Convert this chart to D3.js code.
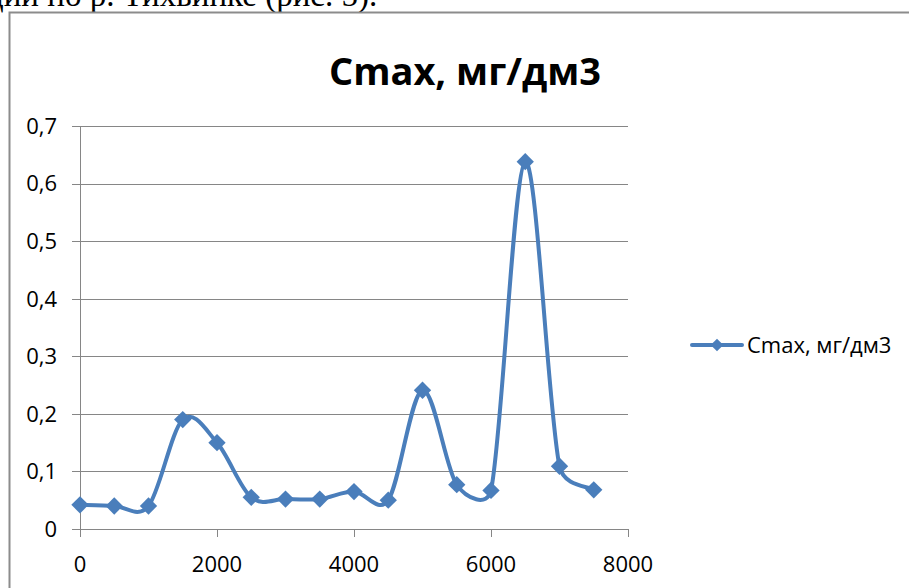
<!DOCTYPE html>
<html>
<head>
<meta charset="utf-8">
<script src="https://cdn.jsdelivr.net/npm/d3@7"></script>
<style>
  body { margin: 0; background: #fff; }
  .tick-label { font-family: "Open Sans", sans-serif; font-size: 22px; fill: #000; }
</style>
</head>
<body>
<div class="chart"></div>
<script>
var distances = [0, 500, 1000, 1500, 2000, 2500, 3000, 3500, 4000, 4500, 5000, 5500, 6000, 6500, 7000, 7500];
var cmaxValues = [0.042, 0.040, 0.040, 0.190, 0.150, 0.055, 0.052, 0.052, 0.065, 0.050, 0.241, 0.077, 0.067, 0.638, 0.109, 0.068];
var yTicks = [0, 0.1, 0.2, 0.3, 0.4, 0.5, 0.6, 0.7];
var xTicks = [0, 2000, 4000, 6000, 8000];
var seriesName = "Cmax, мг/дм3";
var captionText = "ции по р. Тихвинке (рис. 5).";

var width = 909,
    height = 588,
    blue = "#4a7ebb",
    grid = "#868686";

// spreadsheet-like smoothing: catmull-rom tangents, clipped to half the segment length
function smoothCurve(context) {
  var pts = [];
  return {
    areaStart: function() {},
    areaEnd: function() {},
    lineStart: function() { pts = []; },
    point: function(x, y) { pts.push([+x, +y]); },
    lineEnd: function() {
      var n = pts.length;
      if (!n) return;
      context.moveTo(pts[0][0], pts[0][1]);
      for (var i = 0; i < n - 1; i++) {
        var p0 = pts[Math.max(i - 1, 0)], p1 = pts[i],
            p2 = pts[i + 1], p3 = pts[Math.min(i + 2, n - 1)];
        var seg = Math.hypot(p2[0] - p1[0], p2[1] - p1[1]) * 0.5;
        var t1 = [(p2[0] - p0[0]) / 6, (p2[1] - p0[1]) / 6],
            t2 = [(p3[0] - p1[0]) / 6, (p3[1] - p1[1]) / 6];
        var l1 = Math.hypot(t1[0], t1[1]), l2 = Math.hypot(t2[0], t2[1]);
        var k1 = l1 > seg ? seg / l1 : 1, k2 = l2 > seg ? seg / l2 : 1;
        context.bezierCurveTo(
          p1[0] + t1[0] * k1, p1[1] + t1[1] * k1,
          p2[0] - t2[0] * k2, p2[1] - t2[1] * k2,
          p2[0], p2[1]);
      }
    }
  };
}

var svg = d3.select(".chart").append("svg")
    .attr("width", width)
    .attr("height", height);

// cut-off line of document text above the chart
svg.append("text")
  .text(captionText)
  .attr("x", -14)
  .attr("y", 6)
  .style("font-family", "'Liberation Serif', serif")
  .style("font-size", "33px");

// chart frame (only top and left visible)
svg.append("path")
  .attr("d", "M9.5,588 V12.5 H909")
  .attr("fill", "none")
  .attr("stroke", "#8c8c8c")
  .attr("stroke-width", 2);

var x = d3.scaleLinear().domain([0, 8000]).range([80, 628]);
var y = d3.scaleLinear().domain([0, 0.7]).range([529, 126]);

// gridlines
svg.append("g").selectAll("line")
  .data(yTicks)
  .enter().append("line")
    .attr("x1", x(0) - 8)
    .attr("x2", x(8000))
    .attr("y1", function(d) { return Math.round(y(d)) + 0.5; })
    .attr("y2", function(d) { return Math.round(y(d)) + 0.5; })
    .attr("stroke", grid)
    .attr("stroke-width", 1);

// y axis line
svg.append("line")
  .attr("x1", x(0) + 0.5).attr("x2", x(0) + 0.5)
  .attr("y1", y(0.7)).attr("y2", y(0))
  .attr("stroke", grid);

// x axis ticks
svg.append("g").selectAll("line")
  .data(xTicks)
  .enter().append("line")
    .attr("x1", function(d) { return Math.round(x(d)) + 0.5; })
    .attr("x2", function(d) { return Math.round(x(d)) + 0.5; })
    .attr("y1", y(0))
    .attr("y2", y(0) + 8)
    .attr("stroke", grid);

svg.append("g").selectAll("text")
  .data(yTicks)
  .enter().append("text")
    .attr("class", "tick-label")
    .attr("x", 57)
    .attr("y", function(d) { return y(d); })
    .attr("dy", "0.36em")
    .style("text-anchor", "end")
    .text(function(d) { return d === 0 ? "0" : d3.format(".1f")(d).replace(".", ","); });

svg.append("g").selectAll("text")
  .data(xTicks)
  .enter().append("text")
    .attr("class", "tick-label")
    .attr("x", function(d) { return x(d); })
    .attr("y", 572)
    .style("text-anchor", "middle")
    .text(function(d) { return d; });

// title
svg.append("text")
  .text(seriesName)
  .attr("x", 465)
  .attr("y", 85)
  .style("text-anchor", "middle")
  .style("font-family", "'Open Sans', sans-serif")
  .style("font-weight", "bold")
  .style("font-size", "38px");

// series
var points = distances.map(function(d, i) { return [d, cmaxValues[i]]; });

var line = d3.line()
  .x(function(d) { return x(d[0]); })
  .y(function(d) { return y(d[1]); })
  .curve(smoothCurve);

svg.append("path")
  .datum(points)
  .attr("d", line)
  .attr("fill", "none")
  .attr("stroke", blue)
  .attr("stroke-width", 4)
  .attr("stroke-linejoin", "round");

var diamond = d3.symbol().type(d3.symbolSquare).size(150);

svg.append("g").selectAll("path")
  .data(points)
  .enter().append("path")
    .attr("d", diamond)
    .attr("transform", function(d) { return "translate(" + x(d[0]) + "," + y(d[1]) + ") rotate(45)"; })
    .attr("fill", blue);

// legend
var legend = svg.append("g").attr("transform", "translate(692,345)");

legend.append("line")
  .attr("x1", 0).attr("x2", 50)
  .attr("stroke", blue)
  .attr("stroke-width", 4)
  .attr("stroke-linecap", "round");

legend.append("path")
  .attr("d", d3.symbol().type(d3.symbolSquare).size(80))
  .attr("transform", "translate(25,0) rotate(45)")
  .attr("fill", blue);

legend.append("text")
  .attr("class", "tick-label")
  .attr("x", 55)
  .attr("dy", "0.36em")
  .text(seriesName);
</script>
</body>
</html>
